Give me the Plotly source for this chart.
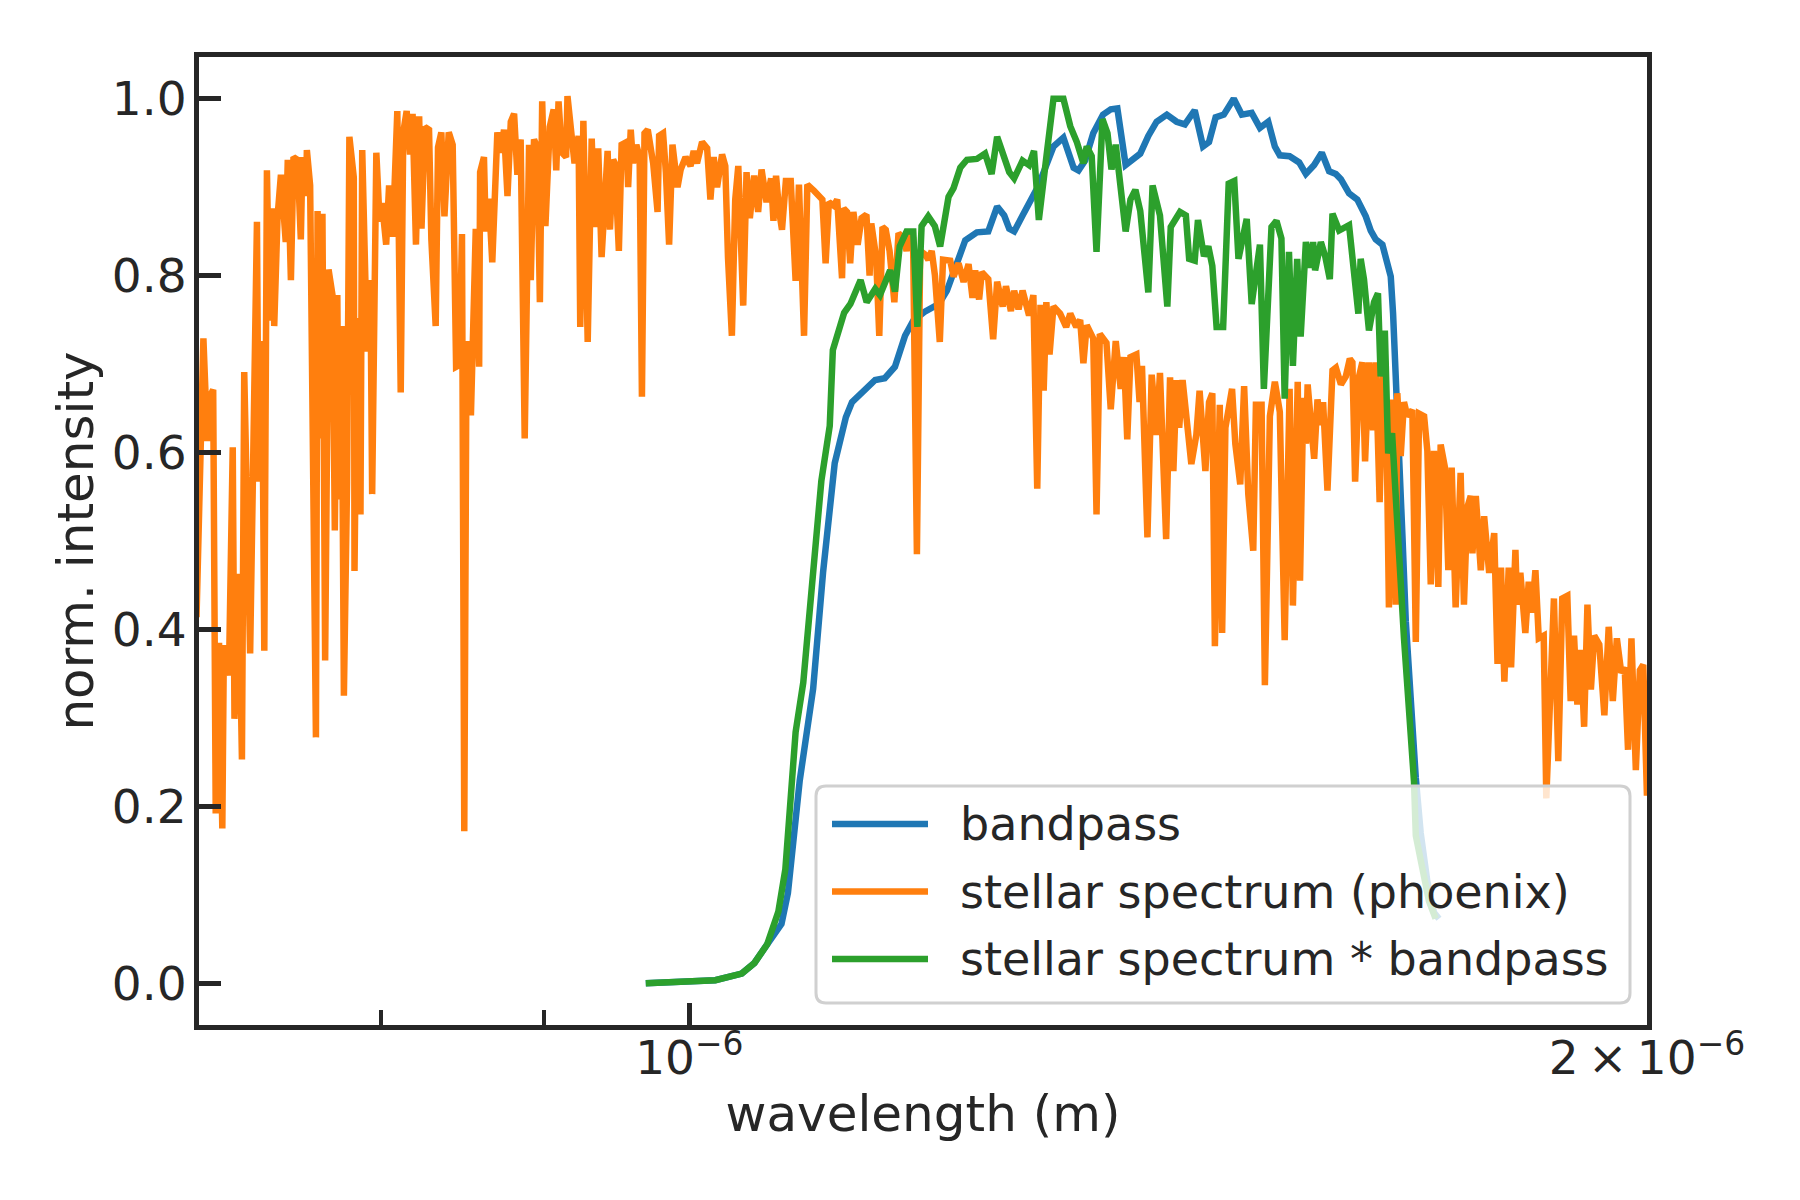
import plotly.graph_objects as go

# wavelengths in micrometres, intensities normalised to 1
band_wl = [0.969, 1.019, 1.0387, 1.0483, 1.058, 1.069, 1.074, 1.0832, 1.0938, 1.1017,
           1.111, 1.120, 1.125, 1.1332, 1.144, 1.152, 1.1605, 1.169, 1.176, 1.1855,
           1.1981, 1.205, 1.2123, 1.2211, 1.2314, 1.2416, 1.2496, 1.256, 1.2606, 1.2651,
           1.2728, 1.2803, 1.2864, 1.2924, 1.3016, 1.311, 1.3207, 1.3254, 1.3317, 1.3396,
           1.3491, 1.3567, 1.3632, 1.3714, 1.3779, 1.386, 1.3941, 1.4025, 1.4129, 1.4229,
           1.4315, 1.4417, 1.4504, 1.4567, 1.4637, 1.4724, 1.483, 1.4917, 1.5024, 1.5114,
           1.5205, 1.5278, 1.5333, 1.5442, 1.5549, 1.5625, 1.5719, 1.5806, 1.589, 1.5968,
           1.6026, 1.6121, 1.6218, 1.6317, 1.6376, 1.6435, 1.6515, 1.6575, 1.6615, 1.6643,
           1.6675, 1.6715, 1.6756, 1.6797, 1.6858, 1.6919, 1.6979, 1.7061, 1.7143, 1.7205]
band_val = [0.000, 0.0035, 0.011, 0.023, 0.044, 0.067, 0.102, 0.229, 0.333, 0.465,
            0.588, 0.640, 0.657, 0.668, 0.682, 0.684, 0.697, 0.732, 0.749, 0.759,
            0.768, 0.783, 0.811, 0.840, 0.849, 0.850, 0.878, 0.868, 0.853, 0.850,
            0.868, 0.884, 0.899, 0.917, 0.946, 0.956, 0.922, 0.919, 0.930, 0.961,
            0.982, 0.988, 0.989, 0.925, 0.930, 0.938, 0.958, 0.974, 0.982, 0.974,
            0.971, 0.987, 0.946, 0.951, 0.979, 0.982, 1.000, 0.982, 0.984, 0.967,
            0.974, 0.946, 0.936, 0.935, 0.928, 0.915, 0.925, 0.939, 0.918, 0.915,
            0.909, 0.893, 0.886, 0.867, 0.851, 0.841, 0.835, 0.815, 0.799, 0.757,
            0.693, 0.602, 0.506, 0.409, 0.312, 0.232, 0.170, 0.115, 0.080, 0.073]

star_wl = [
    0.700, 0.7035, 0.7055, 0.7065, 0.7085, 0.7098, 0.7115, 0.7132, 0.714, 0.7166,
    0.7186, 0.7195, 0.7217, 0.7234, 0.7246, 0.7277, 0.7313, 0.7322, 0.734, 0.7352,
    0.7366, 0.738, 0.7393, 0.7405, 0.7423, 0.7441, 0.7467, 0.7478, 0.7495, 0.7509,
    0.7531, 0.7549, 0.7558, 0.7577, 0.7582, 0.760, 0.7632, 0.7641, 0.7659, 0.7668,
    0.7683, 0.7702, 0.7724, 0.7737, 0.7751, 0.776, 0.7775, 0.7788, 0.7806, 0.7819,
    0.7844, 0.7848, 0.7863, 0.7882, 0.7892, 0.792, 0.7939, 0.7949, 0.7973, 0.7992,
    0.8006, 0.803, 0.8047, 0.8068, 0.8095, 0.8115, 0.813, 0.815, 0.817, 0.8185,
    0.8205, 0.8224, 0.8238, 0.8258, 0.8283, 0.8297, 0.8323, 0.8337, 0.8357, 0.8376,
    0.8402, 0.8426, 0.8447, 0.8467, 0.8483, 0.8497, 0.8511, 0.8538, 0.8568, 0.8589,
    0.8595, 0.8619, 0.863, 0.865, 0.8671, 0.8703, 0.8724, 0.8745, 0.8767, 0.8788,
    0.8809, 0.883, 0.8851, 0.8877, 0.8905, 0.8916, 0.8937, 0.8958, 0.8975, 0.899,
    0.9011, 0.9039, 0.9065, 0.9082, 0.9097, 0.9119, 0.9147, 0.9156,
    0.9203, 0.923, 0.9241, 0.9262, 0.9291, 0.9318, 0.9339, 0.9362, 0.9385, 0.9408,
    0.9426, 0.9442, 0.9464, 0.9476, 0.9503, 0.9522, 0.9556, 0.9567, 0.9585, 0.9601,
    0.9624, 0.9647, 0.9663, 0.9681, 0.9704, 0.9742, 0.9773, 0.9784, 0.9812, 0.9832,
    0.9855, 0.9879, 0.9915, 0.9938, 0.9973, 1.0009, 1.0032, 1.0056, 1.0093, 1.013,
    1.0154, 1.0178, 1.0203, 1.024, 1.0264, 1.0284, 1.0313, 1.0338, 1.0361, 1.0398,
    1.0423, 1.0448, 1.0481, 1.0511, 1.0537, 1.0575, 1.061, 1.0628, 1.0648, 1.0673,
    1.0694, 1.0724, 1.0762, 1.080, 1.0826, 1.0866, 1.0892, 1.0945, 1.0984, 1.1011,
    1.1037, 1.1063, 1.1103, 1.113, 1.1169, 1.1182, 1.1209, 1.1235, 1.1261, 1.1296,
    1.1328, 1.1368, 1.1394, 1.1408, 1.1448, 1.1474, 1.1501, 1.1528, 1.156, 1.160,
    1.1635, 1.1676, 1.1703, 1.173, 1.1758, 1.1791, 1.1819, 1.1861, 1.1889, 1.1918,
    1.1946, 1.1988, 1.2016,
    1.2079, 1.2108, 1.2152, 1.2196, 1.224, 1.2275, 1.2299, 1.2334, 1.2358, 1.2416,
    1.246, 1.2496, 1.2546, 1.2576, 1.2621, 1.2651, 1.2691, 1.2728, 1.2788, 1.2828,
    1.2864, 1.2894, 1.2924, 1.2949, 1.2979, 1.3016, 1.3079, 1.3136, 1.3175, 1.3232,
    1.327, 1.3301, 1.3333, 1.3396, 1.3428, 1.346, 1.3525, 1.3567, 1.3616, 1.3665,
    1.3697, 1.373, 1.3762, 1.3821, 1.3853, 1.3877, 1.3932, 1.3975, 1.4025, 1.4059,
    1.4122, 1.4162, 1.4196, 1.4229, 1.4256, 1.4291, 1.4331, 1.4382, 1.4434, 1.4468,
    1.4529, 1.4567, 1.4602, 1.4629, 1.4681, 1.4706, 1.4741, 1.4812, 1.4847, 1.490,
    1.4942, 1.4987, 1.5041, 1.507, 1.5132, 1.5168, 1.5223, 1.5278, 1.5333, 1.5387,
    1.5442, 1.5479, 1.5533, 1.5559, 1.5596, 1.5627, 1.5645,
    1.5719, 1.5757, 1.5795, 1.5821, 1.5871, 1.5929, 1.5968, 1.6026, 1.6083, 1.613,
    1.616, 1.6192, 1.6238, 1.6277, 1.6309, 1.6355, 1.6403, 1.6435, 1.6482, 1.6521,
    1.6561, 1.6593, 1.6643, 1.6675, 1.6694, 1.6735, 1.6775, 1.6816, 1.6877, 1.6919,
    1.6959, 1.7021, 1.7061, 1.7103, 1.7143, 1.7197, 1.7226, 1.728, 1.7322, 1.7364,
    1.7414, 1.7477, 1.7519, 1.7562, 1.7605, 1.7627, 1.767, 1.7734, 1.7777, 1.7842,
    1.7907, 1.795, 1.7995, 1.8039, 1.8096, 1.8127, 1.8184, 1.8206, 1.8249, 1.8315,
    1.836, 1.8404, 1.8449, 1.8494, 1.856, 1.8595, 1.864, 1.8698, 1.8757, 1.8811,
    1.888, 1.8926, 1.8972, 1.9018, 1.9065, 1.9111, 1.9157, 1.9205, 1.9251, 1.9322,
    1.9393, 1.9454, 1.9512, 1.9569, 1.9632, 1.968, 1.9728, 1.9777, 1.984, 1.9898,
    1.9947, 2.000]
star_val = [
    0.414, 0.729, 0.613, 0.662, 0.671, 0.192, 0.385, 0.175, 0.382, 0.348,
    0.606, 0.299, 0.463, 0.253, 0.691, 0.373, 0.861, 0.567, 0.726, 0.376,
    0.919, 0.749, 0.876, 0.743, 0.867, 0.914, 0.838, 0.931, 0.795, 0.934,
    0.931, 0.841, 0.934, 0.890, 0.942, 0.902, 0.278, 0.873, 0.616, 0.870,
    0.365, 0.807, 0.778, 0.512, 0.778, 0.547, 0.743, 0.325, 0.567, 0.957,
    0.911, 0.466, 0.752, 0.530, 0.942, 0.714, 0.795, 0.553, 0.939, 0.861,
    0.882, 0.835, 0.902, 0.844, 0.986, 0.668, 0.962, 0.986, 0.937, 0.983,
    0.835, 0.980, 0.853, 0.968, 0.965, 0.841, 0.743, 0.945, 0.962, 0.867,
    0.962, 0.948, 0.697, 0.699, 0.847, 0.172, 0.726, 0.642, 0.853, 0.697,
    0.917, 0.934, 0.850, 0.887, 0.815, 0.962, 0.939, 0.965, 0.890, 0.974,
    0.983, 0.914, 0.954, 0.616, 0.948, 0.795, 0.954, 0.945, 0.770, 0.997,
    0.856, 0.968, 0.988, 0.919, 0.997, 0.939, 0.934, 1.003,
    0.927, 0.958, 0.742, 0.975, 0.725, 0.955, 0.855, 0.944, 0.821, 0.896,
    0.941, 0.852, 0.931, 0.927, 0.828, 0.948, 0.951, 0.900, 0.965, 0.927,
    0.948, 0.934, 0.663, 0.961, 0.965, 0.927, 0.872, 0.958, 0.961, 0.917,
    0.835, 0.948, 0.900, 0.920, 0.934, 0.924, 0.941, 0.927, 0.951, 0.944,
    0.886, 0.934, 0.900, 0.937, 0.924, 0.821, 0.732, 0.886, 0.924, 0.766,
    0.917, 0.865, 0.913, 0.872, 0.920, 0.883, 0.910, 0.862, 0.913, 0.872,
    0.852, 0.907, 0.907, 0.794, 0.903, 0.732, 0.903, 0.896, 0.890, 0.886,
    0.814, 0.883, 0.879, 0.886, 0.797, 0.876, 0.872, 0.814, 0.872, 0.835,
    0.865, 0.869, 0.800, 0.859, 0.821, 0.732, 0.855, 0.852, 0.828, 0.770,
    0.848, 0.842, 0.828, 0.845, 0.842, 0.485, 0.828, 0.824, 0.818, 0.828,
    0.800, 0.725, 0.818,
    0.817, 0.799, 0.814, 0.793, 0.813, 0.775, 0.806, 0.773, 0.804, 0.796,
    0.728, 0.793, 0.765, 0.788, 0.760, 0.783, 0.762, 0.783, 0.755, 0.778,
    0.559, 0.767, 0.670, 0.770, 0.711, 0.765, 0.757, 0.742, 0.757, 0.742,
    0.750, 0.701, 0.744, 0.729, 0.530, 0.734, 0.724, 0.649, 0.726, 0.672,
    0.708, 0.615, 0.708, 0.711, 0.657, 0.698, 0.504, 0.688, 0.620, 0.690,
    0.502, 0.685, 0.579, 0.682, 0.628, 0.682, 0.644, 0.587, 0.620, 0.670,
    0.579, 0.657, 0.667, 0.381, 0.654, 0.396, 0.628, 0.672, 0.610, 0.564,
    0.675, 0.553, 0.489, 0.654, 0.654, 0.337, 0.641, 0.680, 0.646, 0.388,
    0.672, 0.427, 0.680, 0.455, 0.662, 0.610, 0.677,
    0.593, 0.660, 0.631, 0.657, 0.557, 0.693, 0.696, 0.677, 0.686, 0.706,
    0.702, 0.567, 0.686, 0.702, 0.590, 0.702, 0.625, 0.702, 0.544, 0.693,
    0.648, 0.425, 0.660, 0.428, 0.667, 0.596, 0.657, 0.641, 0.648, 0.386,
    0.644, 0.641, 0.602, 0.451, 0.602, 0.448, 0.609, 0.583, 0.467, 0.583,
    0.425, 0.577, 0.428, 0.538, 0.551, 0.486, 0.551, 0.467, 0.528, 0.464,
    0.509, 0.361, 0.470, 0.341, 0.470, 0.357, 0.490, 0.428, 0.464, 0.396,
    0.454, 0.419, 0.467, 0.390, 0.393, 0.209, 0.293, 0.435, 0.251, 0.435,
    0.438, 0.319, 0.393, 0.315, 0.377, 0.290, 0.428, 0.332, 0.393, 0.383,
    0.303, 0.403, 0.319, 0.390, 0.351, 0.357, 0.264, 0.390, 0.241, 0.354,
    0.360, 0.212]

prod_wl = [0.969, 1.019, 1.0387, 1.0483, 1.058, 1.0666, 1.072, 1.080, 1.086, 1.0938,
           1.1003, 1.107, 1.1095, 1.1186, 1.1237, 1.132, 1.137, 1.144, 1.148, 1.1565,
           1.1605, 1.1645, 1.1703, 1.176, 1.1795, 1.1831, 1.1888, 1.1945, 1.1991,
           1.2064, 1.2108, 1.2167, 1.2226, 1.2314, 1.2387, 1.2446, 1.2496, 1.2606, 1.2651,
           1.2728, 1.2788, 1.2834, 1.2879, 1.2955, 1.3016, 1.311, 1.3175, 1.3238, 1.3301,
           1.3333, 1.3381, 1.3428, 1.3486, 1.3535, 1.3574, 1.3616, 1.3714, 1.3762, 1.3811,
           1.386, 1.3941, 1.3984, 1.4059, 1.4134, 1.4169, 1.4264, 1.4325, 1.4359, 1.4417,
           1.4451, 1.4514, 1.456, 1.4602, 1.4647, 1.4717, 1.4776, 1.4836, 1.4881, 1.497,
           1.5024, 1.5114, 1.5157, 1.5241, 1.5296, 1.5351, 1.5387, 1.5435, 1.5479, 1.5527,
           1.5566, 1.5625, 1.5674, 1.5707, 1.573, 1.5795, 1.5845, 1.5898, 1.5929, 1.6006,
           1.6121, 1.618, 1.623, 1.6257, 1.6296, 1.6355, 1.6415, 1.6462, 1.6494, 1.6544,
           1.6584, 1.6631, 1.6675, 1.6715, 1.6775, 1.6836, 1.6897, 1.6919, 1.700, 1.7081,
           1.7163]
prod_val = [0.000, 0.0035, 0.011, 0.023, 0.044, 0.081, 0.129, 0.284, 0.340, 0.472,
            0.568, 0.630, 0.716, 0.758, 0.768, 0.795, 0.770, 0.785, 0.778, 0.806,
            0.782, 0.833, 0.850, 0.850, 0.742, 0.856, 0.867, 0.856, 0.833,
            0.889, 0.899, 0.922, 0.931, 0.932, 0.938, 0.915, 0.957, 0.917, 0.910,
            0.930, 0.925, 0.941, 0.863, 0.940, 1.000, 1.000, 0.969, 0.951, 0.927,
            0.946, 0.935, 0.827, 0.977, 0.961, 0.920, 0.948, 0.850, 0.886, 0.897,
            0.873, 0.781, 0.902, 0.868, 0.765, 0.855, 0.872, 0.868, 0.819, 0.817,
            0.863, 0.822, 0.833, 0.811, 0.742, 0.742, 0.904, 0.907, 0.819, 0.864,
            0.768, 0.835, 0.672, 0.855, 0.862, 0.842, 0.661, 0.827, 0.698, 0.819,
            0.731, 0.838, 0.809, 0.838, 0.806, 0.838, 0.822, 0.796, 0.870, 0.851,
            0.857, 0.806, 0.757, 0.819, 0.796, 0.738, 0.770, 0.780, 0.686, 0.738,
            0.599, 0.622, 0.532, 0.486, 0.390, 0.306, 0.228, 0.167, 0.125, 0.093,
            0.073]

series_names = ["bandpass", "stellar spectrum (phoenix)", "stellar spectrum * bandpass"]
series_colors = ["#1f77b4", "#ff7f0e", "#2ca02c"]
x_ticks = [1e-6, 2e-6]
x_ticktext = ["10<sup>\u22126</sup>", "2\u2009\u00d7\u200910<sup>\u22126</sup>"]
x_minor_ticks = [0.8e-6, 0.9e-6]
y_ticks = [0.0, 0.2, 0.4, 0.6, 0.8, 1.0]

INK = "#262626"
FONT = "DejaVu Sans"
SPINE = 5
PAGE_PAD = 8  # the browser's body margin shifts the figure by this much

# plot area as seen in the 1800x1200 screenshot (plotly draws the frame just outside it)
L, R, T, B = 199, 1647, 57, 1025


def px_x(p):
    return (p - L) / (R - L)


def px_y(p):
    return (B - p) / (B - T)


fig = go.Figure()
for wl, val, name, col in zip([band_wl, star_wl, prod_wl], [band_val, star_val, prod_val],
                              series_names, series_colors):
    fig.add_trace(go.Scatter(x=[w * 1e-6 for w in wl], y=val, mode="lines", name=name,
                             line=dict(color=col, width=6.5), showlegend=False))

axis_common = dict(showline=True, linecolor=INK, linewidth=SPINE, mirror=True,
                   ticks="inside", ticklen=22, tickwidth=5, tickcolor=INK,
                   showgrid=False, zeroline=False,
                   tickfont=dict(family=FONT, size=47, color=INK))

fig.update_xaxes(type="log", range=[-6.15412, -5.69895],
                 tickmode="array", tickvals=x_ticks, ticktext=x_ticktext,
                 ticklabelstandoff=-12,
                 minor=dict(ticks="inside", tickmode="array", tickvals=x_minor_ticks,
                            ticklen=15, tickwidth=3.5, tickcolor=INK, showgrid=False),
                 title=dict(text="wavelength (m)", font=dict(family=FONT, size=50, color=INK),
                            standoff=8),
                 **axis_common)
fig.update_yaxes(range=[-0.04718, 1.04718], tickmode="array", tickvals=y_ticks,
                 tickformat=".1f", ticklabelstandoff=-2,
                 title=dict(text="norm. intensity", font=dict(family=FONT, size=50, color=INK),
                            standoff=4),
                 **axis_common)

# legend drawn by hand: rounded, semi-transparent frame like matplotlib's
lx0, lx1, ly0, ly1, rad = 816, 1630, 786, 1003, 10
rx, ry = rad / (R - L), rad / (B - T)
x0, x1, y0, y1 = px_x(lx0), px_x(lx1), px_y(ly1), px_y(ly0)
box = (f"M {x0 + rx},{y0} L {x1 - rx},{y0} Q {x1},{y0} {x1},{y0 + ry} "
       f"L {x1},{y1 - ry} Q {x1},{y1} {x1 - rx},{y1} L {x0 + rx},{y1} "
       f"Q {x0},{y1} {x0},{y1 - ry} L {x0},{y0 + ry} Q {x0},{y0} {x0 + rx},{y0} Z")
shapes = [dict(type="path", path=box, xref="paper", yref="paper", layer="above",
               fillcolor="rgba(255,255,255,0.8)", line=dict(color="#d0d0d0", width=3))]
annotations = []
for i, (name, col) in enumerate(zip(series_names, series_colors)):
    row = 824 + i * 67.5
    shapes.append(dict(type="line", xref="paper", yref="paper", layer="above",
                       x0=px_x(832), x1=px_x(928), y0=px_y(row), y1=px_y(row),
                       line=dict(color=col, width=6.5)))
    annotations.append(dict(text=name, xref="paper", yref="paper", x=px_x(958),
                            y=px_y(row), xanchor="left", yanchor="middle", showarrow=False,
                            font=dict(family=FONT, size=46, color=INK)))

fig.update_layout(width=1800, height=1200,
                  margin=dict(l=L - PAGE_PAD, r=1800 - R + PAGE_PAD,
                              t=T - PAGE_PAD, b=1200 - B + PAGE_PAD),
                  paper_bgcolor="white", plot_bgcolor="white",
                  font=dict(family=FONT, color=INK),
                  shapes=shapes, annotations=annotations)

fig.write_html("out.html")
